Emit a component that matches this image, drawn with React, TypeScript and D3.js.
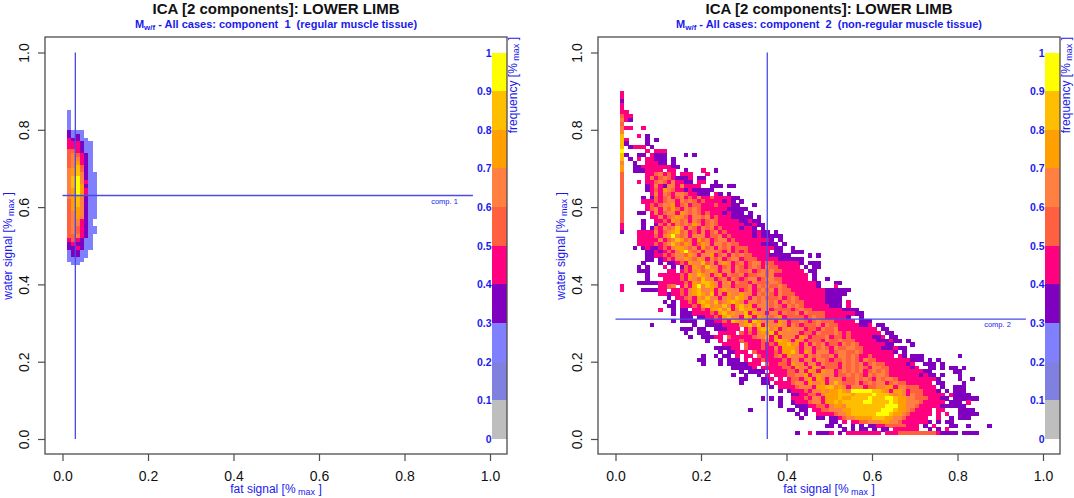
import * as d3 from 'd3';
import React, { useEffect, useRef } from 'react';

const axisTicks = [0, 0.2, 0.4, 0.6, 0.8, 1];
const barLevels = [0, 0.1, 0.2, 0.3, 0.4, 0.5, 0.6, 0.7, 0.8, 0.9, 1];
const levelColors = ['#bebebe', '#8080e0', '#8080ff', '#7f00bf', '#ff0080', '#ff6040', '#ff8040', '#ff9f00', '#ffbf00', '#ffff00'];

// component 1: bins by row, top row first, "col:levels"
const comp1TopRow = 84;
const comp1Rows = [
  '1:2', '1:2', '1:2', '1:2', '1:2',
  '1:3222', '1:3232', '1:43322', '1:444322', '1:444322',
  '1:554322', '1:565432', '1:566432', '1:567432', '1:568532',
  '1:678532', '1:6786322', '1:6896322', '1:6896422', '1:6897322',
  '1:6797422', '1:6797422', '1:6786322', '1:5786322', '1:5786322',
  '1:5776322', '1:5676322', '1:5676322', '1:566432', '1:566432',
  '1:5654322', '1:5654322', '1:556432', '1:454322', '1:343322',
  '1:334322', '1:23322', '1:23322', '1:2222', '2:22',
];
const comp1Mode = { fat: 0.03, water: 0.63 };

// component 2: the narrow column at the left edge, rows 89 down to 53
const comp2EdgeTop = 89;
const comp2Edge = '4434445656688889886775555555555555443';
const comp2IsolatedEdge = [[39, 4], [38, 4]];

// component 2: remaining bins by row, top row first
const comp2TopRow = 84;
const comp2Rows = [
  '2:4', '2:44', '2:43', '', '2:44 6:4', '', '5:4 7:3', '2:4 7:3 9:3', '2:3 7:3',
  '3:3444 8:3',
  '7:4 9:444',
  '2:3 5:33 8:4333 16:3 18:3',
  '3:3 5:4 7:44333 13:3',
  '4:3 7:44433 13:3',
  '4:33444444433',
  '4:3334444 12:44 16:3 20:4 23:3',
  '7:4456454 15:444 21:4',
  '7:46456543334 19:33',
  '5:4 7:44565464433 19:44 23:3',
  '7:3464366464444 22:333 26:33',
  '7:3454765443433333',
  '8:46465466544333 23:43 26:3',
  '6:3 8:35456 13:4564546 20:44544 25:4433 28:3',
  '6:44 8:45456 13:6465654 20:54444 25:343 29:3',
  '7:4 8:54566 13:7456455 20:44454 25:4433 32:3',
  '7:45 9:64657 14:5465654 21:44444 26:3333 30:3',
  '5:33 8:46456 13:6476565 20:45444 25:34333 31:3',
  '8:44 10:64567 15:6546656 22:45444 27:33333 33:3',
  '6:3 9:44 11:54765 16:6465456 23:54444 28:43343 33:3',
  '6:3 9:35 11:46465 16:6576456 23:54444 28:44334 33:33',
  '6:3 8:35 10:46568 15:6465465 22:64544 27:44344 32:3 34:3',
  '5:4444 9:6456 13:7856454 20:6456454 27:44444 32:3433 37:3',
  '5:4444 9:5467 13:9656466 20:6455645 27:44444 32:343 35:3333',
  '5:44444 10:6456 14:8756475 21:6456645 28:44444 33:4443 38:3',
  '5:4444 9:54568 14:6576457 21:6466565 28:54444 33:43333 39:3',
  '4:3 6:34 8:33 10:45467 15:7656475 22:6465645 29:55444 34:44433 41:3',
  '7:33 9:43 11:45467 16:9656466 23:6546454 30:54444 35:4.33 38:3 41:333',
  '7:33 9:4 10:45456 15:6576466 22:7456465 29:65544 34:44333 39:33 45:3 47:3',
  '7:33 10:34 12:54667 17:6576465 24:6456645 31:55444 36:44333 41:33 43:3',
  '6:3 10:3.3 13:345476 19:6856467 26:6456456 33:64554 38:44444 43:3 45:3 46:33',
  '5:3 7:3 11:4.3.3 16:5476586 23:6456465 30:4565465 37:54444 42:4 44:3 46:33',
  '5:33 7:3 12:44.4 16:5467567 23:6466465 30:5645656 37:55444 42:44 45:33',
  '7:3 10:4444 14:4547687 21:6467465 28:5645566 35:56444 40:44444 46:3',
  '7:3 11:4444 15:5476586 22:6456465 29:4566456 36:65544 41:4444 46:3 49:3',
  '5:33333 10:444444 16:5476887 23:6467465 30:5465556 37:65444 42:44444 47:3 51:33',
  '10:4456.4 16:6479687 23:6466455 30:5646565 37:56544 42:44444 47:3 51:4',
  '6:3333 10:44.44 15:546786 21:6746766 28:6456456 35:56465 40:54444 45:4444 49:333333',
  '10:44 12:3 13:44 15:546787 21:6846476 28:6766465 35:65465 40:55444 45:4444 49:33333',
  '12:3 14:445 17:647686 23:6467687 30:6465655 37:56456 42:54444 47:44 49:3333',
  '11:3.3 15:44 17:54787 22:6856787 29:6466566 36:56465 41:65544 46:444 49:3333 54:4',
  '12:33 15:444 18:54786 23:7686478 30:6746665 37:65465 42:65444 47:44 49:4333 54:4',
  '10:4 13:3 15:33 18:44 20:54778 25:6846877 32:6466455 39:55456 44:55444 49:4444 53:3333',
  '13:3 15:333 18:444 21:454786 27:7668476 34:6466465 41:56465 46:55544 51:44 53:4444 56:33',
  '15:333 19:33 21:44 23:54786 28:6487476 35:6567455 42:55456 47:55444 52:44 54:3 57:3',
  '13:3 15:3333 21:33 23:44 25:5487 29:6748766 36:6476455 43:65456 48:55544 53:444 57:333',
  '8:3 18:3 21:3333 25:44 27:44678 32:6847667 39:6465455 46:56465 51:54444 56:4 57:33 59:4 61:33',
  '15:333 19:33 23:333 26:44 28:4.4 31:64788 36:6746766 43:6455465 50:56444 55:444 58:44 60:4 62:33',
  '16:3 19:333 24:44 26:44.54 31:5467 35:6847666 42:6455465 49:55654 54:5444 58:44 60:44 63:33',
  '17:3 20:333 23:4 24:4.544 29:44456 34:6847466 41:6476455 48:56455 53:4544 57:44 59:4334 64:33',
  '21:3 24:4.44 28:45444 33:45 35:64787 40:6476455 47:5465565 54:55444 59:44 61:3334 65:33 68:3',
  '25:444 28:4.544 33:454 36:54778 41:6746465 48:6455465 55:6544 59:444 62:433 69:3',
  '23:3333 27:44.54 32:44544 37:64777 42:6466456 49:5465566 56:5544 60:44 62:3334 66:33',
  '24:3 26:33 28:44 30:4.544 35:44 37:54778 42:6476466 49:6456655 56:6544 60:4444 64:43 67:3',
  '20:3 23:3 25:33 28:4. 30:44.54 35:445 38:64766 43:6465655 50:6466565 57:4454 61:4444 66:43 69:333 80:3',
  '19:3 20:3 24:3 26:333 30:4. 32:4454 36:44 38:4546 42:6466466 49:5455656 56:5465 60:54444 65:44443 70:33 73:3 75:3',
  '20:3 24:3 26:33333 31:44 33:4.5 36:445 39:5476 43:6466465 50:5546565 57:6456 61:55444 66:4434 72:33 74:3 76:3',
  '27:33333 32:4. 34:444 37:445 40:5476 44:6476455 51:5465656 58:5466 62:55444 67:4434 73:33 76:3 78:33 81:3',
  '29:3.3333 36:44 38:445 41:54 43:6476476 50:6456565 57:6456 61:56544 66:4444 70:4433 79:33',
  '27:3 30:3 33:3 35:4. 37:4445 41:56 43:6746766 50:6455656 57:5465 61:66544 66:4444 70:4343 74:3.3 80:3',
  '29:33 34:33 36:4 38:4.45 42:546 45:7476466 52:6455656 59:5465 63:66544 68:444 71:444 74:43 80:3 83:3',
  '29:3 34:33 37:44 39:4456 43:64766 48:7468655 55:5645656 62:6456 66:55444 71:444 75:33 81:3',
  '36:3 38:44 40:44566 45:64778 50:8676466 57:6455667 64:7466 68:55544 73:44 76:3 79:333',
  '38:3 40:3 41:444 44:54667 49:67787 54:6 55:99999 60:8876477 67:6455 71:54 73:443 77:3 79:333',
  '41:33 43:445 46:54677 51:7888 55:7 56:8888 60:9888767 67:64655 72:4444 76:4 78:4 79:3333',
  '34:3 36:3 38:3 41:44 43:4546 47:64777 52:87 54:788 57:88 59:98889 64:98776 69:65554 74:4433 79:333333',
  '38:3 41:344 44:456 47:64778 52:7888 56:889 59:988889 65:87766 70:6544 74:444 78:33 80:3.4',
  '38:3 42:333 45:445 48:54677 53:6888 57:888 60:88899 65:97766 70:544 73:444 76:33 78:3333',
  '31:3 40:33 43:3 44:3 46:44556 51:667788 57:888889 63:9987765 70:4444 75:44 80:3333',
  '42:3 44:3 47:44445 52:6678888 59:8899 63:987765 69:44444 75:4.4 80:3333 84:3',
  '43:3 47:33 50:33 52:45667 57:77788 62:8776654 69:4444 75:4 78:3 80:333',
  '50:3 51:3 53:4 55:445566 61:6776654 68:44444 73:3.3 77:33',
  '49:33 52:3 55:3 57:3 59:33 61:44555 66:5544 70:4 72:3 74:4 78:33 82:3 87:3',
  '53:3 55:3.3 58:3 60:3.3 62:33 65:4444 69:44 73:3 75:3 77:4',
  '42:3 45:4 47:333 50:4 52:3 54:4444444 61:4 63:444 66:555555555 75:4 76:3333 81:3333',
];
const comp2Mode = { fat: 0.355, water: 0.31 };

const parseRows = (rows, topRow) =>
  rows.flatMap((line, i) =>
    line.split(' ').filter(Boolean).flatMap((seg) => {
      const [start, cells] = seg.split(':');
      return [...cells].flatMap((d, j) =>
        d === '.' ? [] : [{ col: +start + j, row: topRow - i, level: +d }]);
    }));

const comp1Bins = parseRows(comp1Rows, comp1TopRow);
const comp2Bins = [
  ...[...comp2Edge].map((d, i) => ({ col: 1, row: comp2EdgeTop - i, level: +d })),
  ...comp2IsolatedEdge.map(([row, level]) => ({ col: 1, row, level })),
  ...parseRows(comp2Rows, comp2TopRow),
];

const FONT = '"Liberation Sans", Arial, sans-serif';
const BLUE = '#1a1aee';
const LINE = '#4a4ae6';
const GREY = '#4d4d4d';

const drawPanel = (svg, panel) => {
  const { left, bins, mode, comp, subtitle } = panel;
  const right = left + 462;
  const top = 37;
  const bottom = 454;
  const x = d3.scaleLinear().domain([0, 1]).range([left + 17.5, left + 445]);
  const y = d3.scaleLinear().domain([0, 1]).range([439, 52.5]);
  const cx = (left + right) / 2;

  const g = svg.append('g');
  const bw = x(0.01) - x(0);
  const bh = y(0) - y(0.01);

  g.append('g')
    .attr('shape-rendering', 'crispEdges')
    .selectAll('rect')
    .data(bins)
    .join('rect')
    .attr('x', (d) => x(d.col / 100))
    .attr('y', (d) => y((d.row + 1) / 100))
    .attr('width', bw + 0.3)
    .attr('height', bh + 0.3)
    .attr('fill', (d) => levelColors[d.level]);

  // colour bar
  const barLeft = right - 15;
  g.append('g')
    .attr('shape-rendering', 'crispEdges')
    .selectAll('rect')
    .data(levelColors)
    .join('rect')
    .attr('x', barLeft)
    .attr('y', (d, i) => y(barLevels[i + 1]))
    .attr('width', 15)
    .attr('height', (d, i) => y(barLevels[i]) - y(barLevels[i + 1]))
    .attr('fill', (d) => d);

  g.append('g')
    .selectAll('text')
    .data(barLevels)
    .join('text')
    .attr('x', barLeft - 0.5)
    .attr('y', (d) => y(d) + 4)
    .attr('text-anchor', 'end')
    .attr('font-family', FONT)
    .attr('font-size', 10.5)
    .attr('font-weight', 'bold')
    .attr('fill', BLUE)
    .text((d) => d);

  // mode lines
  g.append('line')
    .attr('x1', x(mode.fat)).attr('x2', x(mode.fat))
    .attr('y1', y(0)).attr('y2', y(1))
    .attr('stroke', LINE).attr('stroke-width', 1.3);
  g.append('line')
    .attr('x1', x(0)).attr('x2', x(0.96))
    .attr('y1', y(mode.water)).attr('y2', y(mode.water))
    .attr('stroke', LINE).attr('stroke-width', 1.3);
  g.append('text')
    .attr('x', x(0.96) - 15)
    .attr('y', y(mode.water) + 8)
    .attr('text-anchor', 'end')
    .attr('font-family', FONT)
    .attr('font-size', 7.5)
    .attr('fill', BLUE)
    .text(`comp. ${comp}`);

  // box and axes
  g.append('rect')
    .attr('x', left).attr('y', top)
    .attr('width', right - left).attr('height', bottom - top)
    .attr('fill', 'none').attr('stroke', GREY).attr('stroke-width', 1.3);

  const xAxis = g.append('g')
    .attr('transform', `translate(0,${bottom})`)
    .call(d3.axisBottom(x).tickValues(axisTicks).tickSize(7).tickFormat(d3.format('.1f')));
  const yAxis = g.append('g')
    .attr('transform', `translate(${left},0)`)
    .call(d3.axisLeft(y).tickValues(axisTicks).tickSize(7).tickFormat(d3.format('.1f')));
  [xAxis, yAxis].forEach((a) => {
    a.select('.domain').remove();
    a.selectAll('.tick line').attr('stroke', GREY).attr('stroke-width', 1.2);
    a.selectAll('text')
      .attr('font-family', FONT)
      .attr('font-size', 14)
      .attr('fill', '#111');
  });
  xAxis.selectAll('text').attr('y', 17).attr('dy', '0.71em');
  yAxis.selectAll('text')
    .attr('x', 0).attr('dy', 0)
    .attr('text-anchor', 'middle')
    .attr('transform', `translate(-16,0) rotate(-90)`);

  // titles
  g.append('text')
    .attr('x', cx).attr('y', 13.5)
    .attr('text-anchor', 'middle')
    .attr('font-family', FONT)
    .attr('font-size', 15)
    .attr('font-weight', 'bold')
    .attr('fill', '#111')
    .text('ICA [2 components]: LOWER LIMB');

  const sub = g.append('text')
    .attr('x', cx).attr('y', 28)
    .attr('text-anchor', 'middle')
    .attr('font-family', FONT)
    .attr('font-size', 11)
    .attr('font-weight', 'bold')
    .attr('fill', BLUE)
    .attr('xml:space', 'preserve');
  sub.append('tspan').text('M');
  sub.append('tspan').attr('font-size', 8).attr('dy', 2).text('w/f');
  sub.append('tspan').attr('dy', -2).text(` - All cases: component  ${comp}  (${subtitle})`);

  const unitLabel = (node, name) => {
    node.attr('font-family', FONT).attr('font-size', 12).attr('fill', BLUE);
    node.append('tspan').text(`${name} [%`);
    node.append('tspan').attr('font-size', 9).attr('dy', 2).text(' max');
    node.append('tspan').attr('dy', -2).text(' ]');
  };

  unitLabel(g.append('text').attr('x', cx).attr('y', 493).attr('text-anchor', 'middle'), 'fat signal');
  unitLabel(
    g.append('text').attr('text-anchor', 'middle')
      .attr('transform', `translate(${left - 33},246) rotate(-90)`),
    'water signal');
  unitLabel(
    g.append('text').attr('text-anchor', 'end')
      .attr('transform', `translate(${right + 10},37) rotate(-90)`),
    'frequency');
};

const App = () => {
  const ref = useRef<SVGSVGElement | null>(null);

  useEffect(() => {
    const svg = d3.select(ref.current);
    svg.selectAll('*').remove();
    drawPanel(svg, { left: 45, bins: comp1Bins, mode: comp1Mode, comp: 1, subtitle: 'regular muscle tissue' });
    drawPanel(svg, { left: 598, bins: comp2Bins, mode: comp2Mode, comp: 2, subtitle: 'non-regular muscle tissue' });
  }, []);

  return (
    <svg
      ref={ref}
      width={1074}
      height={498}
      style={{ position: 'absolute', left: 0, top: 0, background: '#fff' }}
    />
  );
};

export default App;
